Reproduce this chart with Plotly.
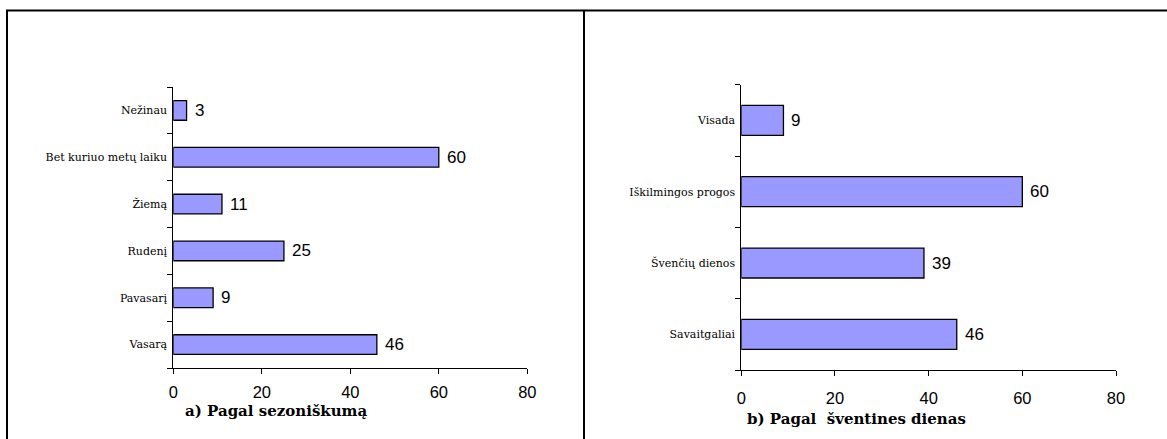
import plotly.graph_objects as go

W, H = 1167, 439

# Data
cats_a = ["Vasarą", "Pavasarį", "Rudenį", "Žiemą", "Bet kuriuo metų laiku", "Nežinau"]
vals_a = [46, 9, 25, 11, 60, 3]
cats_b = ["Savaitgaliai", "Švenčių dienos", "Iškilmingos progos", "Visada"]
vals_b = [46, 39, 60, 9]
x_ticks = [0, 20, 40, 60, 80]
title_a = "a) Pagal sezoniškumą"
title_b = "b) Pagal\u00a0 šventines dienas"

def px(x):
    return x / W

def py(y):
    return 1 - y / H

BAR = "#9999FF"
SERIF = "DejaVu Serif, serif"
SANS = "Liberation Sans, Arial, sans-serif"

fig = go.Figure()
fig.add_trace(go.Bar(y=cats_a, x=vals_a, orientation="h", xaxis="x", yaxis="y",
                     marker=dict(color=BAR, line=dict(color="black", width=1.3)),
                     showlegend=False, hoverinfo="x+y"))
fig.add_trace(go.Bar(y=cats_b, x=vals_b, orientation="h", xaxis="x2", yaxis="y2",
                     marker=dict(color=BAR, line=dict(color="black", width=1.3)),
                     showlegend=False, hoverinfo="x+y"))

annotations = []
for c, v in zip(cats_a, vals_a):
    annotations.append(dict(x=v, y=c, xref="x", yref="y", text=str(v), showarrow=False,
                            xanchor="left", xshift=6, font=dict(family=SANS, size=17, color="black")))
for c, v in zip(cats_b, vals_b):
    annotations.append(dict(x=v, y=c, xref="x2", yref="y2", text=str(v), showarrow=False,
                            xanchor="left", xshift=6, font=dict(family=SANS, size=17, color="black")))
annotations.append(dict(x=px(276), y=py(411), xref="paper", yref="paper", text="<b>" + title_a + "</b>",
                        showarrow=False, xanchor="center", yanchor="middle",
                        font=dict(family=SERIF, size=15, color="black")))
annotations.append(dict(x=px(856), y=py(418.5), xref="paper", yref="paper", text="<b>" + title_b + "</b>",
                        showarrow=False, xanchor="center", yanchor="middle",
                        font=dict(family=SERIF, size=15, color="black")))

xcommon = dict(range=[0, 80], tickvals=x_ticks, ticks="outside", ticklen=5, tickcolor="black",
               showline=True, linecolor="black", linewidth=1, showgrid=False, zeroline=False,
               tickfont=dict(family=SANS, size=16.5, color="black"), fixedrange=True)
ycommon = dict(type="category", tickson="boundaries", ticks="outside", ticklen=5, tickcolor="black",
               showline=True, linecolor="black", linewidth=1, showgrid=False,
               ticklabelstandoff=3,
               tickfont=dict(family=SERIF, size=11, color="black"), fixedrange=True)

fig.update_layout(
    width=W, height=H,
    margin=dict(l=0, r=0, t=0, b=0),
    paper_bgcolor="white", plot_bgcolor="white",
    bargap=0.58,
    xaxis=dict(domain=[px(173.3), px(527.3)], anchor="y", ticklabelstandoff=4, **xcommon),
    yaxis=dict(domain=[py(368), py(87)], anchor="x", **ycommon),
    xaxis2=dict(domain=[px(741.3), px(1116)], anchor="y2", ticklabelstandoff=8, **xcommon),
    yaxis2=dict(domain=[py(370), py(84.7)], anchor="x2", **ycommon),
    annotations=annotations,
    shapes=[
        dict(type="line", xref="paper", yref="paper", x0=px(7), x1=px(7), y0=py(10.5), y1=py(445),
             line=dict(color="black", width=2)),
        dict(type="line", xref="paper", yref="paper", x0=px(6), x1=px(1168), y0=py(10.5), y1=py(10.5),
             line=dict(color="black", width=2)),
        dict(type="line", xref="paper", yref="paper", x0=px(584), x1=px(584), y0=py(10.5), y1=py(445),
             line=dict(color="black", width=2)),
    ],
)
fig.update_xaxes(automargin=False)
fig.update_yaxes(automargin=False)

fig.write_html("out.html", config={"displayModeBar": False},
               post_script="document.body.style.margin='0';document.body.style.overflow='hidden';")
